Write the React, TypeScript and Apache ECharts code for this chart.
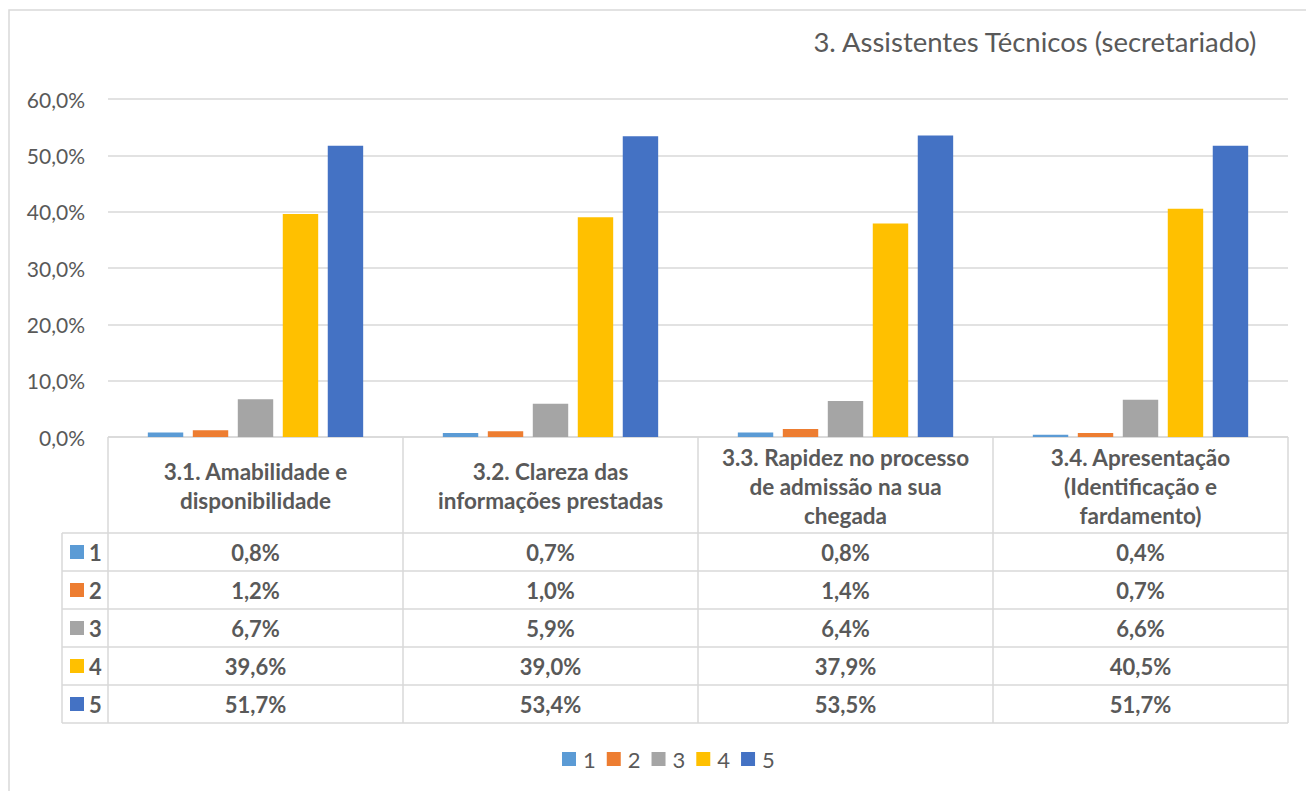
import React, { useEffect, useRef } from "react";
import * as echarts from "echarts";

const title = "3. Assistentes Técnicos (secretariado)";
const categories = [
  "3.1. Amabilidade e\ndisponibilidade",
  "3.2. Clareza das\ninformações prestadas",
  "3.3. Rapidez no processo\nde admissão na sua\nchegada",
  "3.4. Apresentação\n(Identificação e\nfardamento)",
];
const seriesNames = ["1", "2", "3", "4", "5"];
const s1 = [0.8, 0.7, 0.8, 0.4];
const s2 = [1.2, 1.0, 1.4, 0.7];
const s3 = [6.7, 5.9, 6.4, 6.6];
const s4 = [39.6, 39.0, 37.9, 40.5];
const s5 = [51.7, 53.4, 53.5, 51.7];
const seriesValues = [s1, s2, s3, s4, s5];
const colors = ["#5B9BD5", "#ED7D31", "#A5A5A5", "#FFC000", "#4472C4"];
const yMin = 0;
const yMax = 60;
const yInterval = 10;

const FONT = "Lato, 'Open Sans', sans-serif";
const TXT = "#595959";
const LINE = "#d9d9d9";

const W = 1306;
const H = 791;
const gridLeft = 108;
const gridRight = 18;
const gridTop = 99;
const gridBottomY = 437;
const headerH = 96;
const rowH = 38;
const keyColLeft = 62;

const fmt = (v: number) => v.toFixed(1).replace(".", ",") + "%";

export default function App() {
  const ref = useRef<HTMLDivElement>(null);
  useEffect(() => {
    if (!ref.current) return;
    const chart = echarts.init(ref.current, null, { renderer: "svg" });
    const L = gridLeft;
    const R = W - gridRight;
    const T = gridBottomY;
    const cw = (R - L) / categories.length;
    const bodyTop = T + headerH;
    const bottom = bodyTop + rowH * seriesNames.length;

    const graphics: any[] = [];
    graphics.push({
      type: "rect",
      shape: { x: 9, y: 10, width: 1320, height: 820 },
      style: { fill: "none", stroke: LINE, lineWidth: 1.5 },
      silent: true,
    });
    graphics.push({
      type: "line",
      shape: { x1: L, y1: T, x2: R, y2: T },
      style: { stroke: LINE, lineWidth: 1.5 },
    });
    for (let k = 0; k <= seriesNames.length; k++) {
      const y = bodyTop + rowH * k;
      graphics.push({
        type: "line",
        shape: { x1: keyColLeft, y1: y, x2: R, y2: y },
        style: { stroke: LINE, lineWidth: 1.5 },
      });
    }
    for (let c = 0; c <= categories.length; c++) {
      const x = L + cw * c;
      graphics.push({
        type: "line",
        shape: { x1: x, y1: T, x2: x, y2: bottom },
        style: { stroke: LINE, lineWidth: 1.5 },
      });
    }
    graphics.push({
      type: "line",
      shape: { x1: keyColLeft, y1: bodyTop, x2: keyColLeft, y2: bottom },
      style: { stroke: LINE, lineWidth: 1.5 },
    });
    categories.forEach((cat, i) => {
      graphics.push({
        type: "text",
        x: L + cw * (i + 0.5),
        y: T + headerH / 2 + 1,
        style: {
          text: cat,
          fill: TXT,
          font: `bold 22.5px ${FONT}`,
          align: "center",
          verticalAlign: "middle",
          lineHeight: 29,
        },
      });
    });
    seriesNames.forEach((name, k) => {
      const cy = bodyTop + rowH * (k + 0.5);
      graphics.push({
        type: "rect",
        shape: { x: 70, y: cy - 7, width: 14, height: 14 },
        style: { fill: colors[k] },
      });
      graphics.push({
        type: "text",
        x: 89,
        y: cy,
        style: {
          text: name,
          fill: TXT,
          font: `bold 22px ${FONT}`,
          align: "left",
          verticalAlign: "middle",
        },
      });
      seriesValues[k].forEach((v, i) => {
        graphics.push({
          type: "text",
          x: L + cw * (i + 0.5),
          y: cy,
          style: {
            text: fmt(v),
            fill: TXT,
            font: `bold 22px ${FONT}`,
            align: "center",
            verticalAlign: "middle",
          },
        });
      });
    });

    const option: any = {
      animation: false,
      backgroundColor: "#ffffff",
      title: {
        text: title,
        right: 43,
        top: 22,
        textStyle: { fontFamily: FONT, fontSize: 27.5, fontWeight: "normal", color: TXT },
      },
      legend: {
        data: seriesNames,
        left: 557,
        top: 743,
        icon: "rect",
        itemWidth: 14,
        itemHeight: 14,
        itemGap: 11,
        textStyle: { fontFamily: FONT, fontSize: 22, color: TXT, padding: [0, 0, 0, 2] },
      },
      grid: {
        left: gridLeft,
        right: gridRight,
        top: gridTop,
        bottom: H - gridBottomY,
        containLabel: false,
      },
      xAxis: {
        type: "category",
        data: categories,
        axisLabel: { show: false },
        axisLine: { show: false },
        axisTick: { show: false },
      },
      yAxis: {
        type: "value",
        min: yMin,
        max: yMax,
        interval: yInterval,
        axisLabel: {
          formatter: (v: number) => fmt(v),
          fontFamily: FONT,
          fontSize: 21,
          color: TXT,
          margin: 23,
        },
        splitLine: { lineStyle: { color: LINE, width: 1.5 } },
        axisLine: { show: false },
        axisTick: { show: false },
      },
      series: seriesNames.map((name, k) => ({
        name,
        type: "bar",
        data: seriesValues[k],
        itemStyle: { color: colors[k] },
        barGap: "27%",
        barCategoryGap: "27%",
      })),
      graphic: graphics,
    };
    chart.setOption(option);
    return () => chart.dispose();
  }, []);
  return (
    <div
      ref={ref}
      style={{ position: "fixed", left: 0, top: 0, width: W, height: H, background: "#fff" }}
    />
  );
}
